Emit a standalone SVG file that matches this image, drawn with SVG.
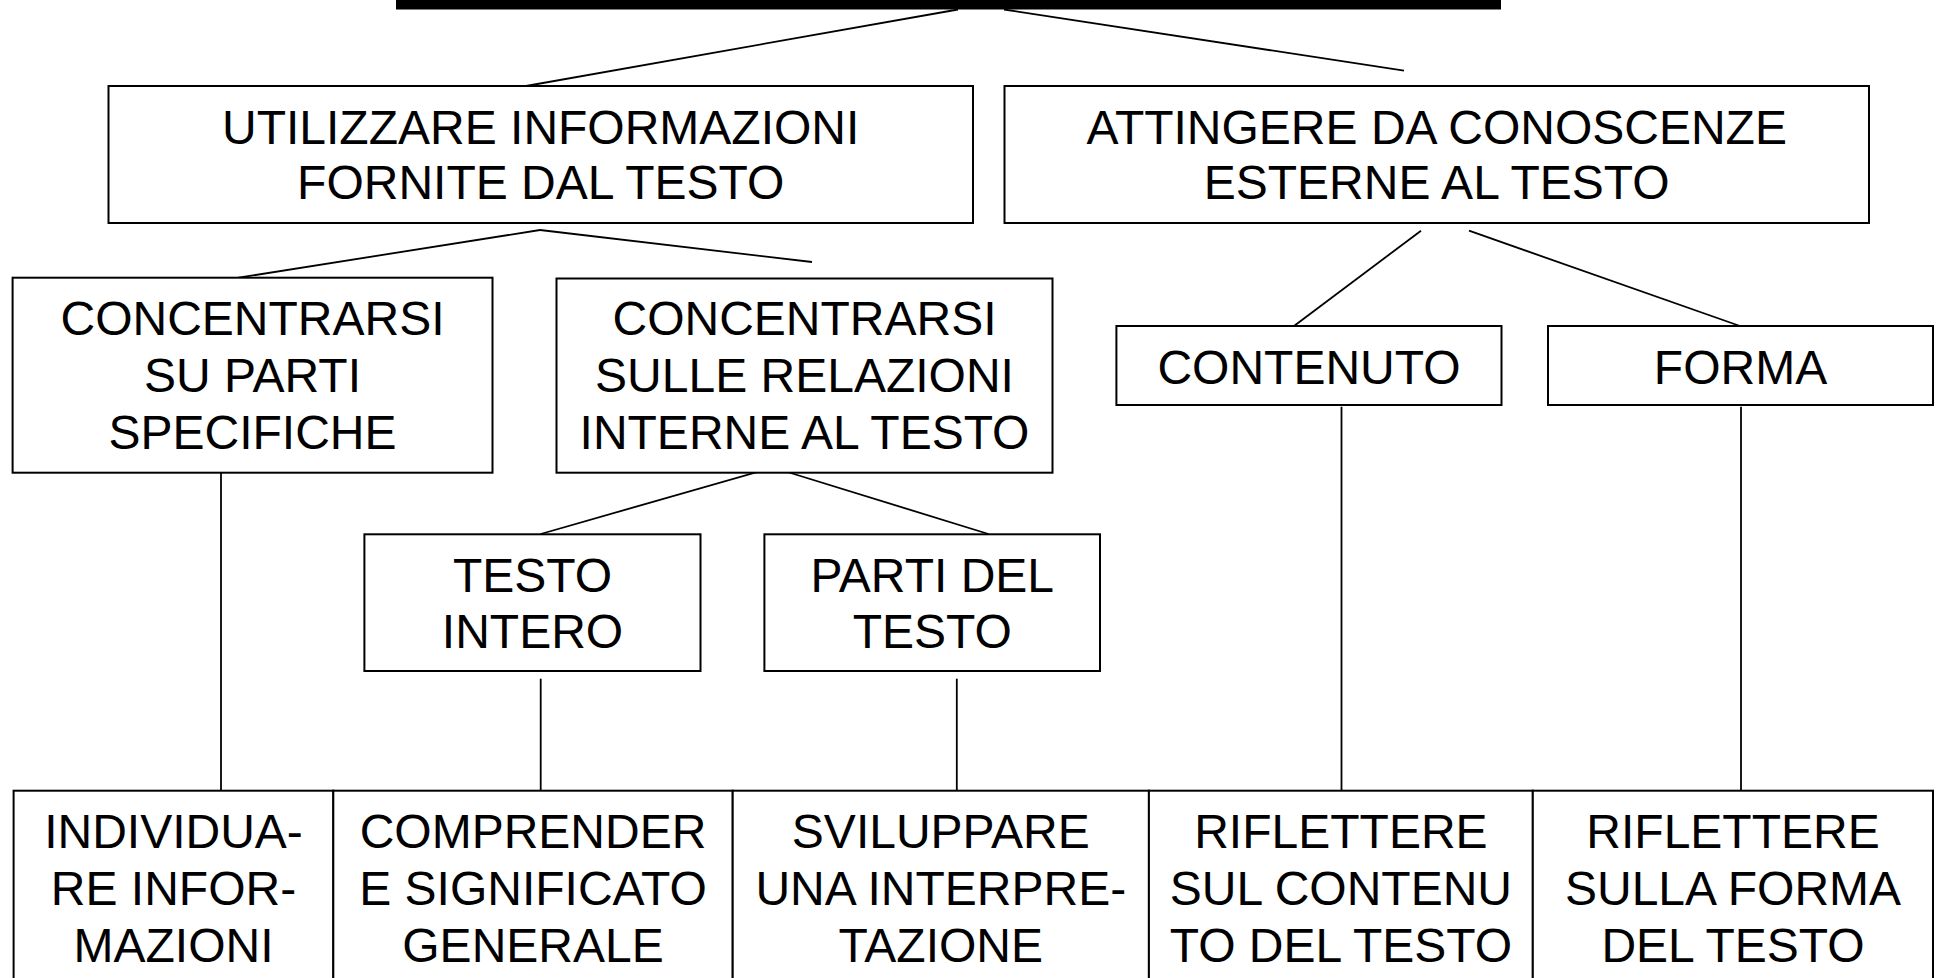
<svg xmlns="http://www.w3.org/2000/svg" width="1936" height="978" viewBox="0 0 1936 978">
<style>
.box{fill:#fff;stroke:#000;stroke-width:2}
.t{font-family:"Liberation Sans",Arial,sans-serif;font-size:48px;fill:#000;text-anchor:middle}
.c{stroke:#000;stroke-width:1.8;fill:none}
</style>
<rect x="0" y="0" width="1936" height="978" fill="#fff"/>
<g id="title"><rect x="396" y="-10" width="1105" height="19.5" fill="#000"/></g>
<g id="connectors">
<line class="c" x1="958" y1="9.5" x2="526" y2="86"/>
<line class="c" x1="1004" y1="9.5" x2="1404" y2="70.7"/>
<line class="c" x1="540" y1="230" x2="238.5" y2="277.7"/>
<line class="c" x1="540" y1="230" x2="812" y2="262"/>
<line class="c" x1="1421" y1="230.7" x2="1294" y2="326"/>
<line class="c" x1="1469" y1="230.7" x2="1740" y2="326"/>
<line class="c" x1="764" y1="470" x2="540.7" y2="534"/>
<line class="c" x1="781" y1="470" x2="988.5" y2="534"/>
<line class="c" x1="221" y1="473" x2="221" y2="790.7"/>
<line class="c" x1="540.7" y1="678.7" x2="540.7" y2="790.7"/>
<line class="c" x1="956.8" y1="678.7" x2="956.8" y2="790.7"/>
<line class="c" x1="1341.5" y1="406.7" x2="1341.5" y2="790.7"/>
<line class="c" x1="1741" y1="406.7" x2="1741" y2="790.7"/>
</g>
<g id="nodeA"><rect class="box" x="108.5" y="86" width="864.5" height="137"/>
<text class="t" x="540.7" y="144">UTILIZZARE INFORMAZIONI</text>
<text class="t" x="540.7" y="199">FORNITE DAL TESTO</text></g>
<g id="nodeB"><rect class="box" x="1004.5" y="86" width="864.5" height="137"/>
<text class="t" x="1436.7" y="144">ATTINGERE DA CONOSCENZE</text>
<text class="t" x="1436.7" y="199">ESTERNE AL TESTO</text></g>
<g id="nodeC"><rect class="box" x="12.6" y="277.7" width="479.9" height="195"/>
<text class="t" x="252.5" y="335">CONCENTRARSI</text>
<text class="t" x="252.5" y="392">SU PARTI</text>
<text class="t" x="252.5" y="449">SPECIFICHE</text></g>
<g id="nodeD"><rect class="box" x="556.5" y="278.5" width="496" height="194.2"/>
<text class="t" x="804.5" y="335">CONCENTRARSI</text>
<text class="t" x="804.5" y="392">SULLE RELAZIONI</text>
<text class="t" x="804.5" y="449">INTERNE AL TESTO</text></g>
<g id="nodeE"><rect class="box" x="1116.4" y="326" width="385.1" height="79"/>
<text class="t" x="1309" y="384.3">CONTENUTO</text></g>
<g id="nodeF"><rect class="box" x="1548" y="326" width="385" height="79"/>
<text class="t" x="1740.5" y="384.3">FORMA</text></g>
<g id="nodeG"><rect class="box" x="364.4" y="534.3" width="336.1" height="136.7"/>
<text class="t" x="532.5" y="591.7">TESTO</text>
<text class="t" x="532.5" y="648.3">INTERO</text></g>
<g id="nodeH"><rect class="box" x="764.4" y="534.3" width="335.6" height="136.7"/>
<text class="t" x="932.2" y="591.7">PARTI DEL</text>
<text class="t" x="932.2" y="648.3">TESTO</text></g>
<g id="nodeI"><rect class="box" x="13.6" y="790.7" width="319.7" height="200"/>
<text class="t" x="173.5" y="848.3">INDIVIDUA-</text>
<text class="t" x="173.5" y="905">RE INFOR-</text>
<text class="t" x="173.5" y="961.7">MAZIONI</text></g>
<g id="nodeJ"><rect class="box" x="333.3" y="790.7" width="399.4" height="200"/>
<text class="t" x="533" y="848.3">COMPRENDER</text>
<text class="t" x="533" y="905">E SIGNIFICATO</text>
<text class="t" x="533" y="961.7">GENERALE</text></g>
<g id="nodeK"><rect class="box" x="732.7" y="790.7" width="416.2" height="200"/>
<text class="t" x="940.8" y="848.3">SVILUPPARE</text>
<text class="t" x="940.8" y="905">UNA INTERPRE-</text>
<text class="t" x="940.8" y="961.7">TAZIONE</text></g>
<g id="nodeL"><rect class="box" x="1148.9" y="790.7" width="383.9" height="200"/>
<text class="t" x="1340.9" y="848.3">RIFLETTERE</text>
<text class="t" x="1340.9" y="905">SUL CONTENU</text>
<text class="t" x="1340.9" y="961.7">TO DEL TESTO</text></g>
<g id="nodeM"><rect class="box" x="1532.8" y="790.7" width="400.2" height="200"/>
<text class="t" x="1733" y="848.3">RIFLETTERE</text>
<text class="t" x="1733" y="905">SULLA FORMA</text>
<text class="t" x="1733" y="961.7">DEL TESTO</text></g>
</svg>
